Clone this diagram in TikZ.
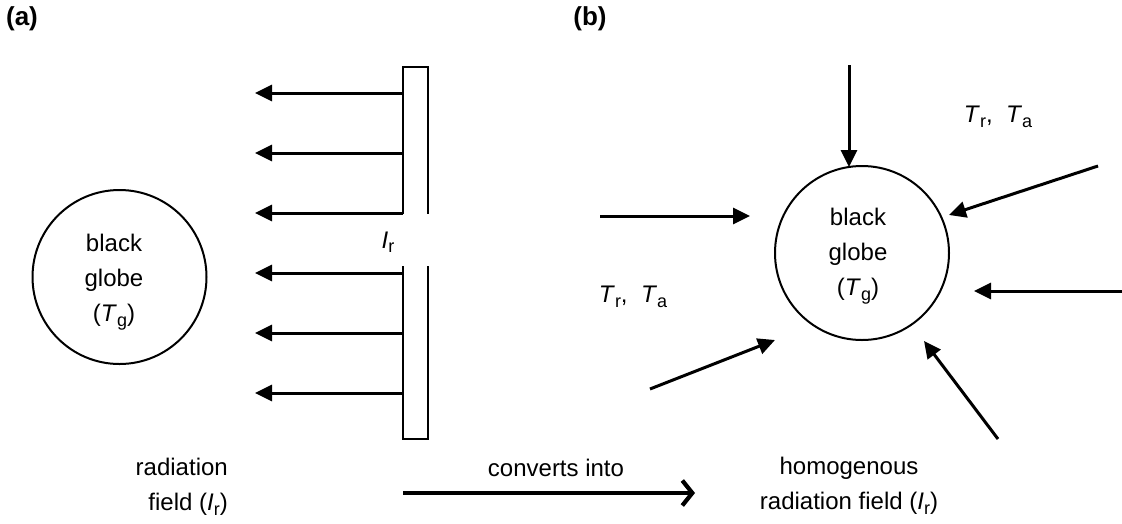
\documentclass[tikz,border=0pt]{standalone}
\usepackage{fontspec}
\setmainfont{Liberation Sans}
\usetikzlibrary{arrows.meta,positioning}
\newcommand{\lo}[1]{\raisebox{-0.35ex}{\fontsize{18}{18}\selectfont #1}}

\begin{document}
\begin{tikzpicture}[x=1pt,y=-1pt,
  every node/.style={font=\fontsize{24}{35}\selectfont,inner sep=0pt},
  globe/.style={draw,circle,line width=2pt,minimum size=174pt},
  ray/.style={line width=3pt,-{Triangle[length=17pt,width=16pt]}},
  plate/.style={line width=2pt},
  conv/.style={line width=4.2pt,-{Straight Barb[length=10pt,width=25pt]}},
  tag/.style={font=\fontsize{26}{26}\selectfont\bfseries},
]
\useasboundingbox (0,0) rectangle (1122,523);

% (a) plate emitting onto the globe
\node[tag] (ta) at (22,19) {(a)};
\node[globe] (ga) at (119.5,277) {};
\node[align=center] (gat) at (114,282) {black\\globe\\(\textit{T}\lo{g})};
\draw[plate] (403,214) -- (403,67) -- (428,67) -- (428,214);
\draw[plate] (403,266) -- (403,439) -- (428,439) -- (428,266);
\node (ir) at (388,242) {\textit{I}\lo{r}};
\coordinate (p1) at (403,93);  \coordinate (e1) at (255,93);
\coordinate (p2) at (403,153); \coordinate (e2) at (255,153);
\coordinate (p3) at (403,213); \coordinate (e3) at (255,213);
\coordinate (p4) at (403,273); \coordinate (e4) at (255,273);
\coordinate (p5) at (403,333); \coordinate (e5) at (255,333);
\coordinate (p6) at (403,393); \coordinate (e6) at (255,393);
\draw[ray] (p1) -- (e1);
\draw[ray] (p2) -- (e2);
\draw[ray] (p3) -- (e3);
\draw[ray] (p4) -- (e4);
\draw[ray] (p5) -- (e5);
\draw[ray] (p6) -- (e6);
\node[anchor=east,align=right] (rf) at (228,487) {radiation\\field (\textit{I}\lo{r})};

% conversion
\node (cv) at (556,468) {converts into};
\coordinate (c0) at (403,493);
\coordinate (c1) at (695,493);
\draw[conv] (c0) -- (c1);

% (b) globe in homogenous field
\node[tag] (tb) at (590,19) {(b)};
\node[globe] (gb) at (862,253) {};
\node[align=center] (gbt) at (858,256) {black\\globe\\(\textit{T}\lo{g})};
\coordinate (s1) at (849,65);   \coordinate (t1) at (849,167);
\coordinate (s2) at (1098,166); \coordinate (t2) at (949,215);
\coordinate (s3) at (1122,291); \coordinate (t3) at (974,291);
\coordinate (s4) at (998,439);  \coordinate (t4) at (924,341);
\coordinate (s5) at (650,389);  \coordinate (t5) at (775,340);
\coordinate (s6) at (600,216);  \coordinate (t6) at (750,216);
\draw[ray] (s1) -- (t1);
\draw[ray] (s2) -- (t2);
\draw[ray] (s3) -- (t3);
\draw[ray] (s4) -- (t4);
\draw[ray] (s5) -- (t5);
\draw[ray] (s6) -- (t6);
\node (tra1) at (998,117) {\textit{T}\lo{r},\ \ \textit{T}\lo{a}};
\node (tra2) at (633,297) {\textit{T}\lo{r},\ \ \textit{T}\lo{a}};
\node[align=center] (hf) at (849,486) {homogenous\\radiation field (\textit{I}\lo{r})};

\end{tikzpicture}
\end{document}
